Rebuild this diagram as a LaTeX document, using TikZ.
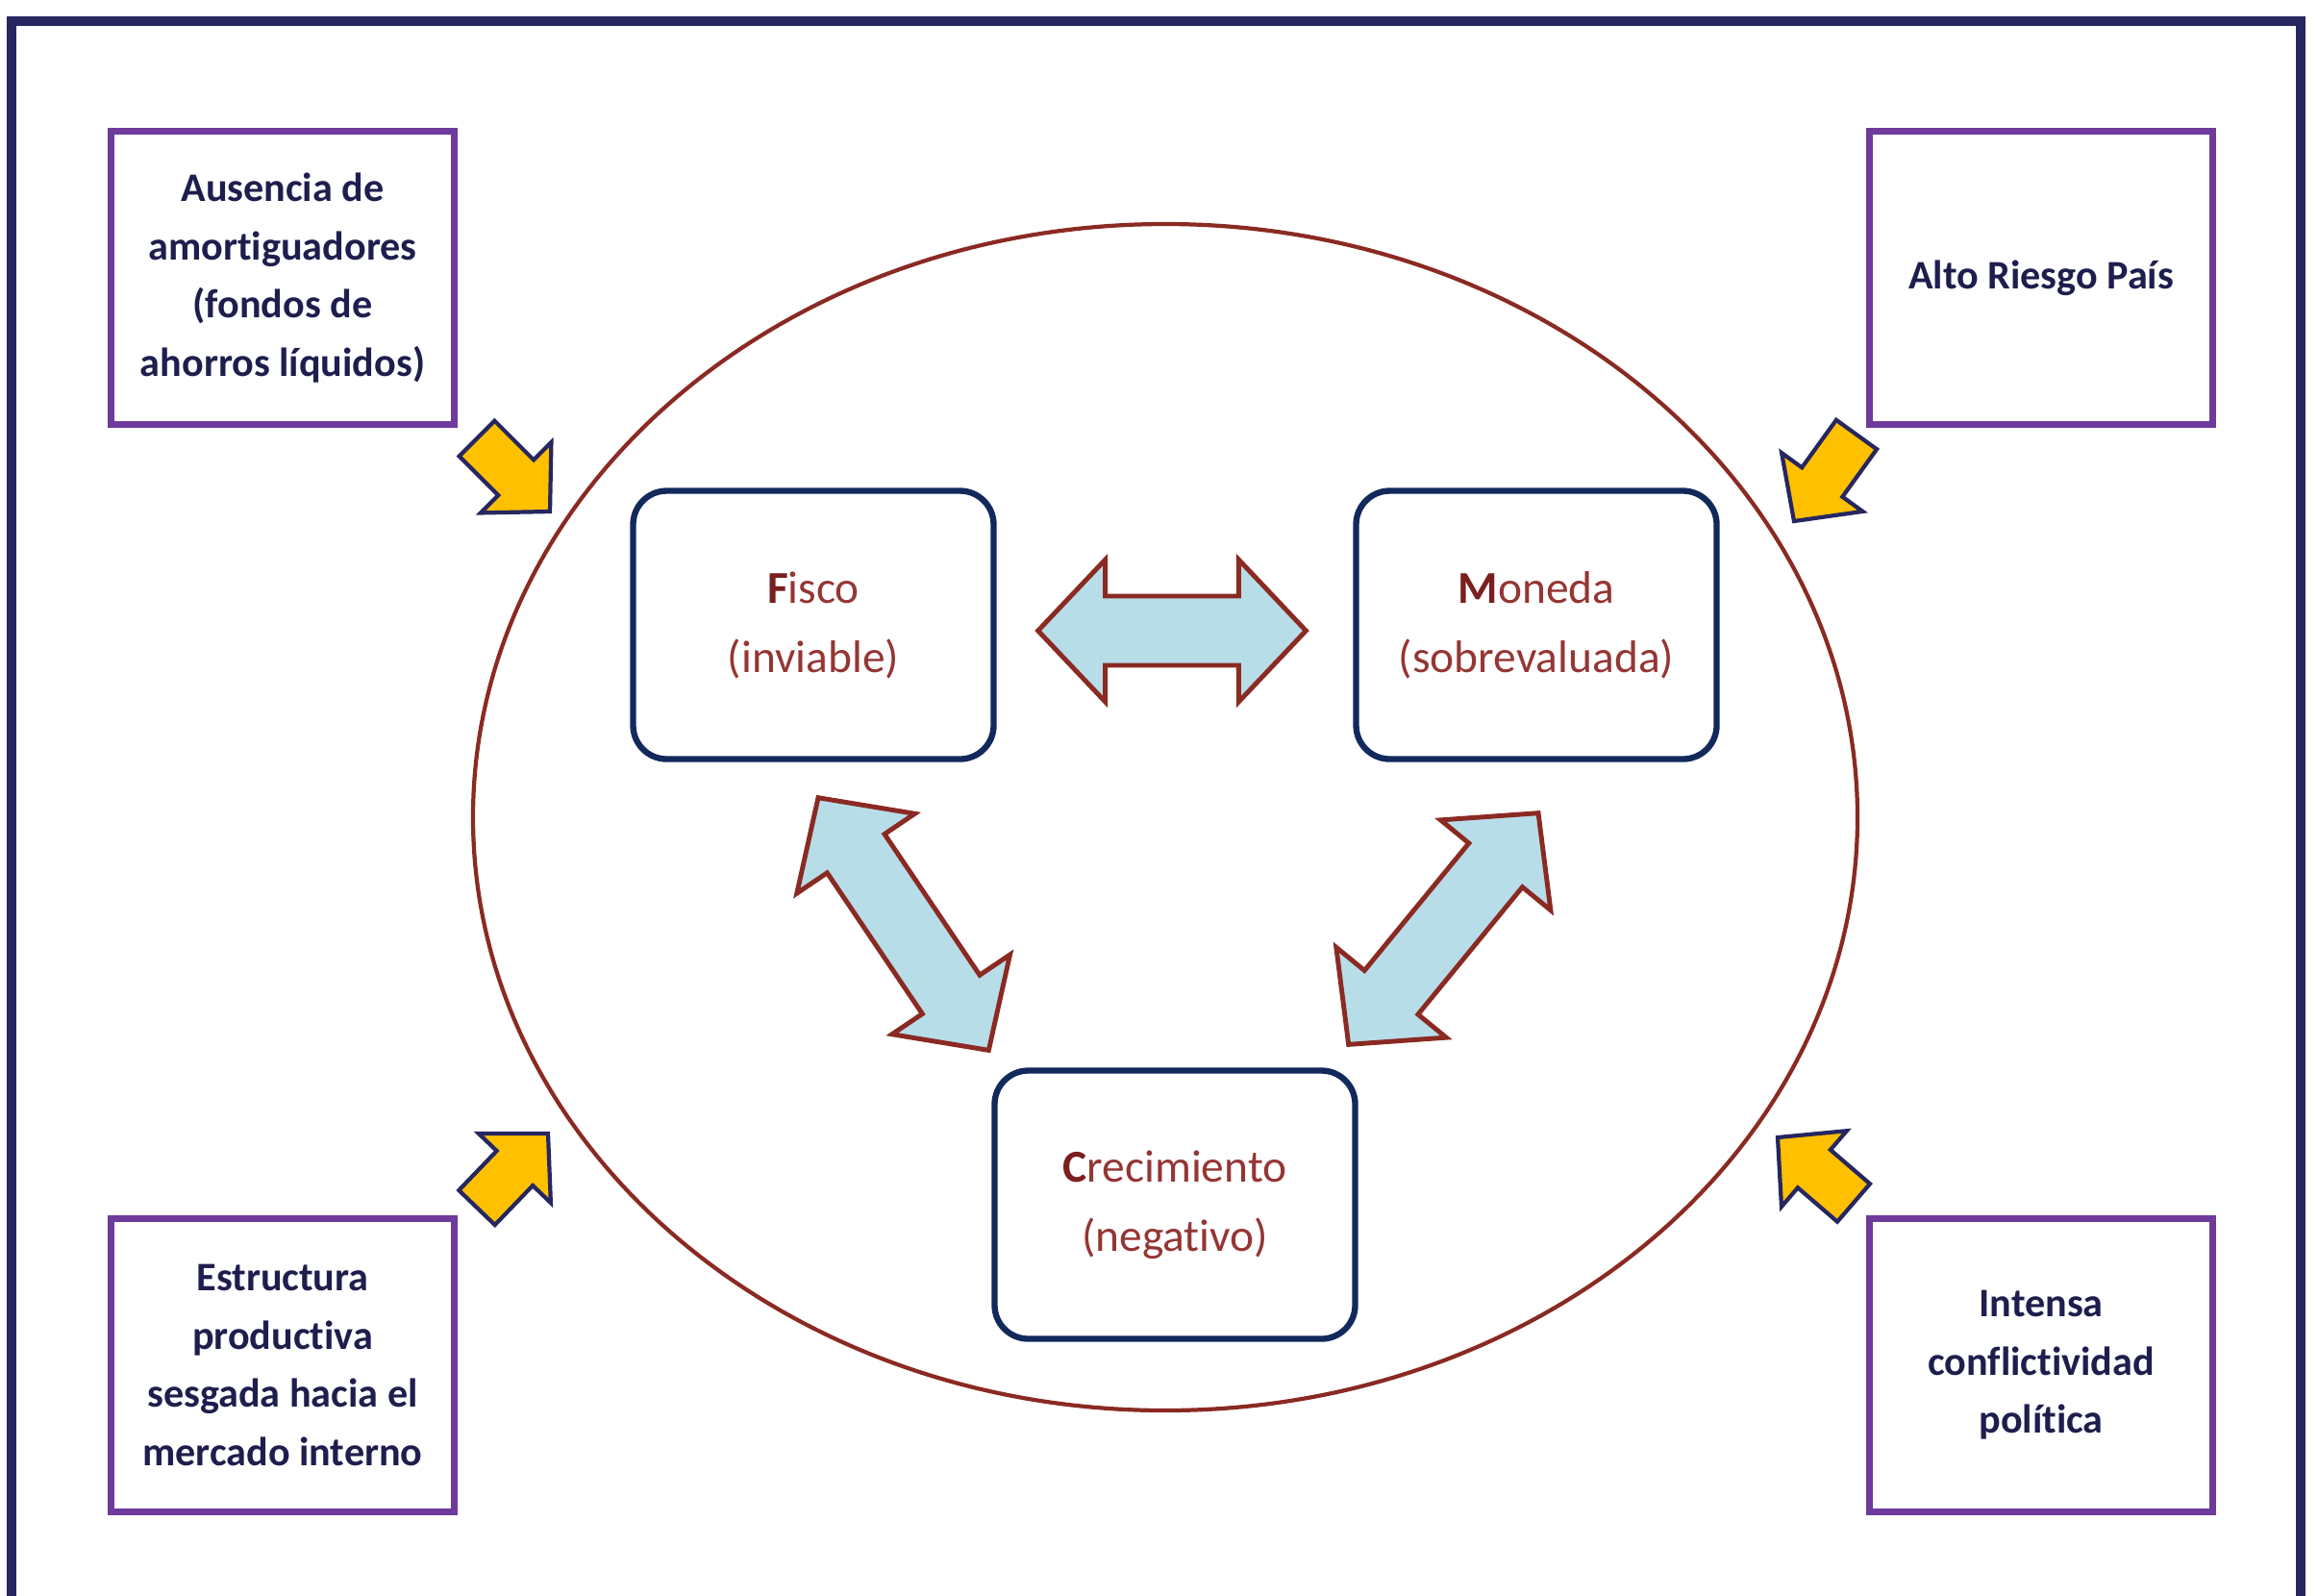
\documentclass[tikz,border=0pt]{standalone}
\usepackage{fontspec}
\setmainfont{Carlito}[Ligatures=NoCommon]
\usetikzlibrary{positioning,calc,shapes.geometric}
\definecolor{frameNavy}{HTML}{262660}
\definecolor{boxPurple}{HTML}{6E3A9C}
\definecolor{textNavy}{HTML}{1E1E4E}
\definecolor{coreNavy}{HTML}{12295C}
\definecolor{coreRed}{HTML}{943634}
\definecolor{darkRed}{HTML}{7A1E1E}
\definecolor{ringRed}{HTML}{8A2A22}
\definecolor{paleAqua}{HTML}{B7DDE8}
\definecolor{gold}{HTML}{FFC000}
\newcommand{\capital}[1]{\textcolor{darkRed}{\bfseries #1}}
\newcommand{\twoheads}[3]{%
  \path ($(#2)!0.70cm!(#3)$) coordinate (ha) ($(#3)!0.70cm!(#2)$) coordinate (hb);
  \draw[#1] (#2) -- ($(ha)!0.74cm!90:(#3)$) -- ($(ha)!0.36cm!90:(#3)$)
    -- ($(hb)!0.36cm!-90:(#2)$) -- ($(hb)!0.74cm!-90:(#2)$) -- (#3)
    -- ($(hb)!0.74cm!90:(#2)$) -- ($(hb)!0.36cm!90:(#2)$)
    -- ($(ha)!0.36cm!-90:(#3)$) -- ($(ha)!0.74cm!-90:(#3)$) -- cycle;}
\newcommand{\onehead}[3]{%
  \path ($(#3)!0.50cm!(#2)$) coordinate (hc);
  \draw[#1] (#3) -- ($(hc)!0.52cm!90:(#3)$) -- ($(hc)!0.26cm!90:(#3)$)
    -- ($(#2)!0.26cm!90:(#3)$) -- ($(#2)!0.26cm!-90:(#3)$)
    -- ($(hc)!0.26cm!-90:(#3)$) -- ($(hc)!0.52cm!-90:(#3)$) -- cycle;}

\begin{document}
\begin{tikzpicture}[
  outerbox/.style={draw=boxPurple,line width=2pt,minimum width=3.57cm,minimum height=3.05cm,align=center,text=textNavy,font=\bfseries\fontsize{12}{17.2}\selectfont},
  corebox/.style={draw=coreNavy,line width=1.8pt,rounded corners=0.35cm,minimum width=3.75cm,minimum height=2.79cm,align=center,text=coreRed,font=\fontsize{13.5}{20.5}\selectfont},
  linkarrow/.style={draw=ringRed,fill=paleAqua,line width=1.4pt},
  pusharrow/.style={draw=frameNavy,fill=gold,line width=1.2pt}]
\useasboundingbox (0,0) rectangle (24.11,-16.59);
\draw[frameNavy,line width=2.6pt] (0.12,-16.7) -- (0.12,-0.22) -- (23.93,-0.22) -- (23.93,-16.7);
\node[draw=ringRed,line width=1.2pt,ellipse,minimum width=14.40cm,minimum height=12.34cm,inner sep=0] (ring) at (12.12,-8.50) {};

\node[outerbox] (tl) at (2.94,-2.89) {Ausencia de\\amortiguadores\\(fondos de\\ahorros líquidos)};
\node[outerbox] (tr) at (21.23,-2.89) {Alto Riesgo País};
\node[outerbox] (bl) at (2.94,-14.20) {Estructura\\productiva\\sesgada hacia el\\mercado interno};
\node[outerbox] (br) at (21.23,-14.20) {Intensa\\conflictividad\\política};

\node[corebox] (fisco) at (8.46,-6.50) {\capital{F}isco\\(inviable)};
\node[corebox] (moneda) at (15.98,-6.50) {\capital{M}oneda\\(sobrevaluada)};
\node[corebox] (crec) at (12.22,-12.53) {\capital{C}recimiento\\(negativo)};

\coordinate (fm1) at ($(fisco.east)+(0.43,-0.06)$);
\coordinate (fm2) at ($(moneda.west)+(-0.49,-0.06)$);
\coordinate (fc1) at ($(fisco.south)+(0.05,-0.37)$);
\coordinate (fc2) at ($(crec.north west)+(-0.03,0.18)$);
\coordinate (mc1) at ($(moneda.south)+(0.02,-0.53)$);
\coordinate (mc2) at ($(crec.north east)+(-0.10,0.24)$);
\twoheads{linkarrow}{fm1}{fm2}
\twoheads{linkarrow}{fc1}{fc2}
\twoheads{linkarrow}{mc1}{mc2}

\coordinate (tlA) at ($(tl.south east)+(0.20,-0.11)$);
\coordinate (tlB) at ($(tl.south east)+(0.96,-0.87)$);
\coordinate (trA) at ($(tr.south west)+(-0.10,-0.07)$);
\coordinate (trB) at ($(tr.south west)+(-0.75,-0.97)$);
\coordinate (blA) at ($(bl.north east)+(0.20,0.08)$);
\coordinate (blB) at ($(bl.north east)+(0.94,0.85)$);
\coordinate (brA) at ($(br.north west)+(-0.13,0.13)$);
\coordinate (brB) at ($(br.north west)+(-0.92,0.81)$);
\onehead{pusharrow}{tlA}{tlB}
\onehead{pusharrow}{trA}{trB}
\onehead{pusharrow}{blA}{blB}
\onehead{pusharrow}{brA}{brB}
\end{tikzpicture}
\end{document}
